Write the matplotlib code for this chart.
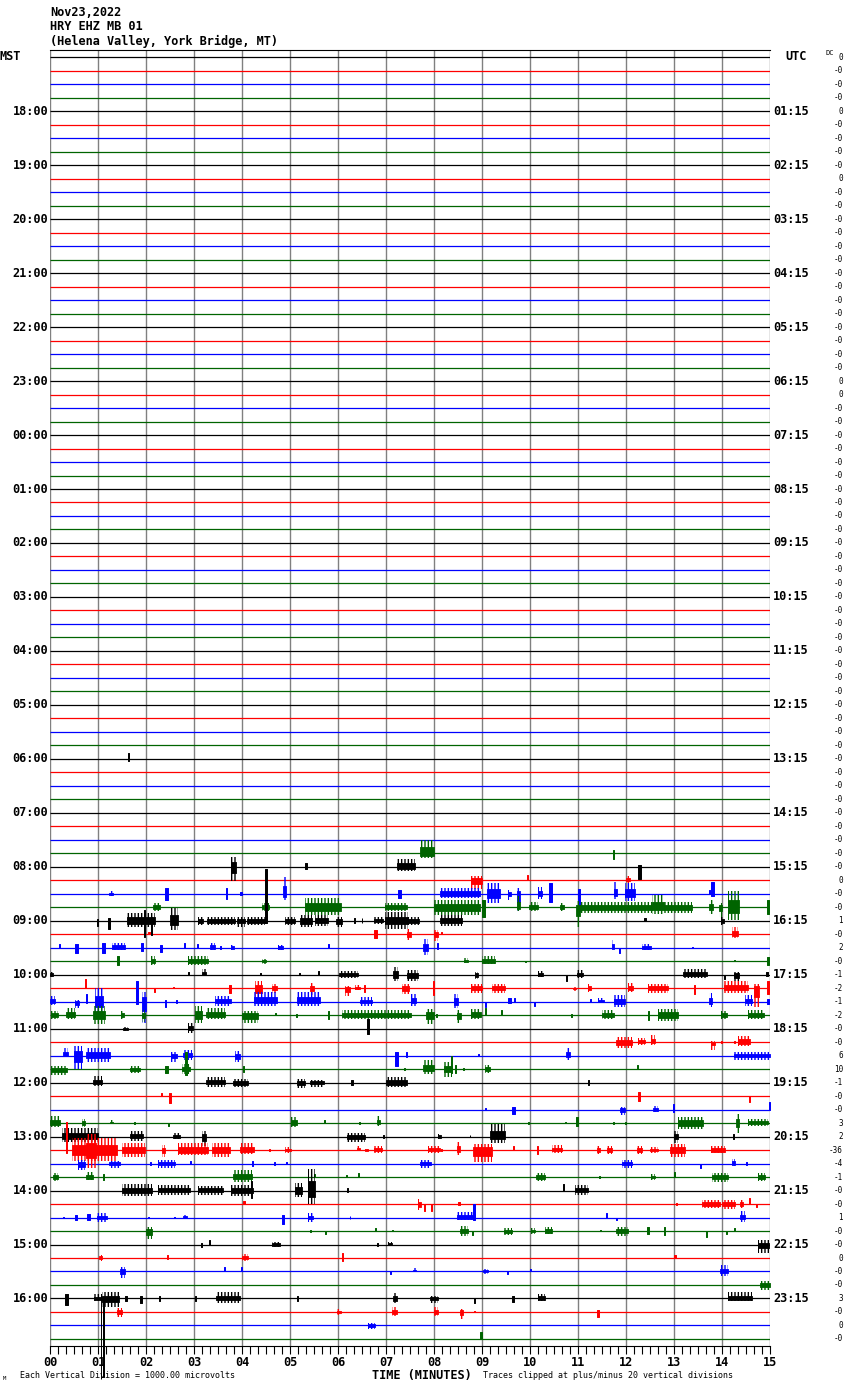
import matplotlib
matplotlib.use("Agg")
import matplotlib.pyplot as plt

plt.rcParams['font.family'] = ['DejaVu Sans Mono']
plt.rcParams['hatch.linewidth'] = 1.0

W, H = 850, 1390

# ---------------- data ----------------
header_lines = ["Nov23,2022", "HRY EHZ MB 01", "(Helena Valley, York Bridge, MT)"]

mst_labels = ["18:00", "19:00", "20:00", "21:00", "22:00", "23:00", "00:00", "01:00",
              "02:00", "03:00", "04:00", "05:00", "06:00", "07:00", "08:00", "09:00",
              "10:00", "11:00", "12:00", "13:00", "14:00", "15:00", "16:00"]
utc_labels = ["01:15", "02:15", "03:15", "04:15", "05:15", "06:15", "07:15", "08:15",
              "09:15", "10:15", "11:15", "12:15", "13:15", "14:15", "15:15", "16:15",
              "17:15", "18:15", "19:15", "20:15", "21:15", "22:15", "23:15"]

# DC offset printed at right of each of the 96 traces
dc_offsets = (["0", "-0", "-0", "-0", "0", "-0", "-0", "-0", "-0", "0", "-0", "-0"]
              + ["-0"] * 12
              + ["0", "0", "-0", "-0"]
              + ["-0"] * 33
              + ["0", "-0", "-0", "1", "-0", "2", "-0", "-1", "-2", "-1", "-2",
                 "-0", "-0", "6", "10", "-1", "-0", "-0", "3", "2", "-36", "-4", "-1",
                 "-0", "-0", "1", "-0", "-0", "0", "-0", "-0", "3", "-0", "0", "-0"])

minute_labels = ["%02d" % m for m in range(16)]

# seismic bursts: (trace, start min, end min, amplitude up, amplitude down)
# amplitudes in units of trace spacing
bursts = [
    (52, 1.62, 1.65, 0.4, 0.15),
    (59, 7.71, 7.99, 1.0, 0.37), (59, 11.72, 11.76, 0.25, 0.45),
    (60, 3.78, 3.87, 0.74, 1.06), (60, 5.32, 5.35, 0.3, 0.2), (60, 7.22, 7.60, 0.55, 0.32),
    (60, 12.26, 12.31, 0.1, 0.9),
    (61, 8.78, 9.00, 0.32, 0.67), (61, 9.93, 9.96, 0.4, 0.0), (61, 12.01, 12.08, 0.3, 0.2),
    (62, 1.22, 1.32, 0.2, 0.2), (62, 2.40, 2.45, 0.45, 0.47), (62, 3.66, 3.69, 0.45, 0.42),
    (62, 3.96, 3.99, 0.1, 0.1), (62, 4.85, 4.92, 1.26, 0.47), (62, 7.26, 7.31, 0.3, 0.3),
    (62, 8.12, 8.96, 0.4, 0.3), (62, 9.10, 9.37, 0.8, 0.7), (62, 9.54, 9.60, 0.3, 0.45),
    (62, 9.72, 9.79, 0.45, 1.28), (62, 10.16, 10.26, 0.5, 0.37), (62, 10.40, 10.45, 0.8, 0.6),
    (62, 11.00, 11.05, 0.37, 1.28), (62, 11.74, 11.82, 0.86, 0.37), (62, 11.98, 12.19, 0.8, 0.55),
    (62, 13.72, 13.74, 0.3, 0.0), (62, 13.78, 13.83, 0.86, 0.2),
    (63, 2.15, 2.29, 0.35, 0.3), (63, 4.41, 4.56, 0.35, 0.3), (63, 5.31, 6.06, 0.67, 0.57),
    (63, 6.98, 7.43, 0.3, 0.3), (63, 8.00, 8.96, 0.55, 0.6), (63, 9.01, 9.06, 0.55, 0.74),
    (63, 9.72, 9.79, 0.8, 0.3), (63, 9.98, 10.17, 0.42, 0.3), (63, 10.63, 10.70, 0.3, 0.3),
    (63, 10.95, 11.05, 0.45, 1.43), (63, 11.05, 12.55, 0.42, 0.45), (63, 12.55, 12.80, 0.9, 0.5),
    (63, 12.80, 13.37, 0.42, 0.4), (63, 13.72, 13.82, 0.5, 0.5), (63, 13.93, 14.00, 0.3, 0.7),
    (63, 14.12, 14.36, 1.2, 0.95), (63, 14.94, 14.98, 0.57, 0.5),
    (64, 0.98, 1.00, 0.1, 0.4), (64, 1.20, 1.24, 0.2, 0.6), (64, 1.60, 2.19, 0.6, 0.5),
    (64, 1.95, 1.98, 0.8, 1.2), (64, 2.10, 2.13, 0.3, 1.04), (64, 2.50, 2.67, 0.94, 0.67),
    (64, 3.09, 3.19, 0.3, 0.3), (64, 3.28, 3.85, 0.3, 0.3), (64, 3.89, 4.06, 0.3, 0.45),
    (64, 4.10, 4.48, 0.3, 0.3), (64, 4.48, 4.53, 3.83, 0.2), (64, 4.90, 5.10, 0.3, 0.3),
    (64, 5.21, 5.45, 0.4, 0.5), (64, 5.53, 5.80, 0.4, 0.4), (64, 5.95, 6.08, 0.3, 0.5),
    (64, 6.34, 6.36, 0.2, 0.2), (64, 6.49, 6.51, 0.2, 0.2), (64, 6.74, 6.94, 0.25, 0.25),
    (64, 6.98, 7.45, 0.65, 0.6), (64, 7.45, 7.69, 0.3, 0.3), (64, 8.12, 8.58, 0.45, 0.37),
    (64, 12.38, 12.42, 0.2, 0.05), (64, 13.98, 14.05, 0.3, 0.3),
    (65, 2.05, 2.08, 0.2, 0.0), (65, 6.76, 6.81, 0.32, 0.3), (65, 7.43, 7.53, 0.4, 0.4),
    (65, 8.00, 8.09, 0.3, 0.5), (65, 8.14, 8.16, 0.2, 0.0), (65, 14.21, 14.33, 0.5, 0.3),
    (66, 0.18, 0.20, 0.25, 0.0), (66, 0.53, 0.59, 0.25, 0.4), (66, 1.09, 1.15, 0.37, 0.37),
    (66, 1.30, 1.56, 0.37, 0.15), (66, 1.90, 1.94, 0.37, 0.25), (66, 2.29, 2.34, 0.2, 0.3),
    (66, 2.79, 2.81, 0.37, 0.0), (66, 3.07, 3.09, 0.25, 0.0), (66, 3.33, 3.44, 0.37, 0.2),
    (66, 3.55, 3.57, 0.1, 0.1), (66, 3.78, 3.84, 0.2, 0.2), (66, 4.76, 4.86, 0.2, 0.2),
    (66, 5.80, 5.82, 0.25, 0.0), (66, 7.78, 7.88, 0.62, 0.57), (66, 8.07, 8.09, 0.37, 0.1),
    (66, 11.70, 11.76, 0.54, 0.2), (66, 11.86, 11.88, 0.0, 0.42), (66, 12.33, 12.52, 0.3, 0.2),
    (66, 13.38, 13.40, 0.05, 0.05),
    (67, 1.39, 1.44, 0.35, 0.27), (67, 2.10, 2.19, 0.35, 0.27), (67, 2.88, 3.30, 0.35, 0.3),
    (67, 4.42, 4.51, 0.2, 0.2), (67, 8.63, 8.70, 0.22, 0.15), (67, 9.01, 9.28, 0.35, 0.22),
    (67, 9.89, 9.91, 0.05, 0.05), (67, 14.25, 14.27, 0.1, 0.0), (67, 14.94, 14.98, 0.3, 0.3),
    (68, 0.00, 0.07, 0.2, 0.2), (68, 2.87, 2.89, 0.2, 0.0), (68, 3.17, 3.26, 0.45, 0.1),
    (68, 4.37, 4.39, 0.1, 0.0), (68, 5.19, 5.21, 0.1, 0.0), (68, 5.59, 5.61, 0.27, 0.0),
    (68, 6.03, 6.42, 0.3, 0.25), (68, 7.15, 7.26, 0.6, 0.47), (68, 7.43, 7.67, 0.35, 0.47),
    (68, 8.85, 8.91, 0.2, 0.3), (68, 10.17, 10.28, 0.3, 0.2), (68, 10.75, 10.77, 0.0, 0.47),
    (68, 10.97, 11.10, 0.35, 0.22), (68, 13.19, 13.68, 0.4, 0.25), (68, 14.04, 14.06, 0.0, 0.3),
    (68, 14.24, 14.35, 0.2, 0.47), (68, 14.92, 14.95, 0.2, 0.1),
    (69, 0.72, 0.76, 0.7, 0.0), (69, 2.16, 2.18, 0.0, 0.3), (69, 2.56, 2.58, 0.1, 0.0),
    (69, 3.72, 3.78, 0.25, 0.37), (69, 4.27, 4.41, 0.5, 0.74), (69, 4.62, 4.72, 0.32, 0.37),
    (69, 5.42, 5.51, 0.37, 0.5), (69, 6.15, 6.25, 0.17, 0.6), (69, 6.35, 6.46, 0.25, 0.12),
    (69, 6.55, 6.57, 0.25, 0.25), (69, 7.33, 7.47, 0.32, 0.42), (69, 7.97, 8.01, 0.5, 0.5),
    (69, 8.78, 9.00, 0.32, 0.37), (69, 9.21, 9.47, 0.32, 0.37), (69, 10.90, 10.96, 0.1, 0.2),
    (69, 11.20, 11.28, 0.3, 0.3), (69, 12.04, 12.15, 0.42, 0.32), (69, 12.46, 12.88, 0.32, 0.37),
    (69, 13.41, 13.44, 0.25, 0.42), (69, 14.05, 14.55, 0.5, 0.37), (69, 14.67, 14.77, 0.32, 1.4),
    (69, 14.94, 14.98, 0.5, 0.4),
    (70, 0.01, 0.10, 0.45, 0.25), (70, 0.52, 0.60, 0.15, 0.5), (70, 0.75, 0.77, 0.6, 0.1),
    (70, 0.94, 1.11, 1.0, 0.9), (70, 1.80, 1.84, 1.55, 0.2), (70, 1.91, 2.00, 0.7, 1.58),
    (70, 2.40, 2.42, 0.1, 0.4), (70, 2.63, 2.65, 0.1, 0.1), (70, 3.44, 3.78, 0.45, 0.3),
    (70, 4.24, 4.72, 0.7, 0.3), (70, 5.14, 5.63, 0.7, 0.3), (70, 6.46, 6.70, 0.35, 0.3),
    (70, 7.53, 7.62, 0.6, 0.3), (70, 8.42, 8.51, 0.6, 0.47), (70, 9.06, 9.08, 0.0, 0.4),
    (70, 9.55, 9.60, 0.3, 0.1), (70, 9.67, 9.69, 0.3, 0.0), (70, 10.09, 10.11, 0.0, 0.3),
    (70, 11.26, 11.28, 0.2, 0.0), (70, 11.42, 11.55, 0.3, 0.1), (70, 11.76, 11.98, 0.5, 0.4),
    (70, 13.72, 13.79, 0.65, 0.4), (70, 14.48, 14.62, 0.5, 0.3), (70, 14.94, 14.97, 0.2, 0.2),
    (71, 0.03, 0.17, 0.3, 0.3), (71, 0.34, 0.52, 0.55, 0.3), (71, 0.90, 1.15, 0.7, 0.65),
    (71, 1.48, 1.54, 0.3, 0.3), (71, 1.91, 1.98, 0.4, 0.5), (71, 3.02, 3.16, 0.7, 0.55),
    (71, 3.26, 3.65, 0.5, 0.3), (71, 3.99, 4.34, 0.3, 0.6), (71, 4.68, 4.70, 0.15, 0.0),
    (71, 5.13, 5.15, 0.1, 0.1), (71, 5.79, 5.81, 0.3, 0.3), (71, 6.08, 7.53, 0.35, 0.3),
    (71, 7.83, 7.99, 0.45, 0.65), (71, 8.05, 8.07, 0.1, 0.1), (71, 8.47, 8.57, 0.4, 0.55),
    (71, 8.78, 8.98, 0.45, 0.3), (71, 9.06, 9.08, 0.55, 0.0), (71, 9.40, 9.42, 0.4, 0.0),
    (71, 10.86, 10.88, 0.1, 0.1), (71, 11.49, 11.74, 0.35, 0.3), (71, 12.45, 12.47, 0.3, 0.35),
    (71, 12.67, 13.09, 0.45, 0.4), (71, 13.97, 14.10, 0.3, 0.3), (71, 14.55, 14.88, 0.4, 0.3),
    (72, 1.53, 1.63, 0.15, 0.15), (72, 2.87, 2.98, 0.4, 0.3), (72, 6.60, 6.65, 0.7, 0.4),
    (73, 11.79, 12.12, 0.4, 0.4), (73, 12.26, 12.39, 0.3, 0.2), (73, 12.52, 12.60, 0.55, 0.2),
    (73, 13.78, 13.85, 0.1, 0.55), (73, 13.97, 13.99, 0.1, 0.1), (73, 14.25, 14.27, 0.1, 0.1),
    (73, 14.34, 14.59, 0.45, 0.3),
    (74, 0.28, 0.38, 0.6, 0.1), (74, 0.50, 0.66, 0.7, 1.0), (74, 0.76, 1.25, 0.55, 0.45),
    (74, 2.52, 2.64, 0.3, 0.45), (74, 2.78, 2.95, 0.4, 0.3), (74, 3.85, 3.96, 0.35, 0.5),
    (74, 7.19, 7.24, 0.3, 0.75), (74, 7.42, 7.44, 0.25, 0.1), (74, 8.91, 8.93, 0.15, 0.0),
    (74, 10.76, 10.83, 0.6, 0.3), (74, 14.24, 15.00, 0.3, 0.3),
    (75, 0.03, 0.35, 0.25, 0.45), (75, 1.67, 1.87, 0.25, 0.3), (75, 2.40, 2.45, 0.25, 0.3),
    (75, 2.74, 2.92, 0.35, 0.35), (75, 2.82, 2.85, 1.3, 0.4), (75, 4.03, 4.05, 0.2, 0.2),
    (75, 7.37, 7.39, 0.1, 0.1), (75, 7.78, 7.99, 0.65, 0.35), (75, 8.21, 8.37, 0.5, 0.55),
    (75, 8.35, 8.38, 0.95, 0.3), (75, 8.44, 8.46, 0.3, 0.3), (75, 8.60, 8.62, 0.1, 0.1),
    (75, 9.07, 9.16, 0.3, 0.3), (75, 12.23, 12.25, 0.3, 0.0),
    (76, 0.90, 1.08, 0.5, 0.25), (76, 3.26, 3.65, 0.45, 0.3), (76, 3.82, 4.13, 0.3, 0.35),
    (76, 5.14, 5.31, 0.3, 0.4), (76, 5.42, 5.70, 0.2, 0.3), (76, 6.27, 6.32, 0.2, 0.2),
    (76, 7.01, 7.43, 0.45, 0.35), (76, 11.20, 11.22, 0.2, 0.2),
    (77, 2.32, 2.34, 0.2, 0.0), (77, 2.47, 2.53, 0.25, 0.5), (77, 12.26, 12.29, 0.3, 0.35),
    (77, 14.56, 14.58, 0.0, 0.4),
    (78, 9.07, 9.09, 0.15, 0.0), (78, 9.63, 9.69, 0.2, 0.35), (78, 11.87, 11.98, 0.2, 0.4),
    (78, 12.57, 12.67, 0.3, 0.2), (78, 12.98, 13.00, 0.4, 0.2), (78, 14.97, 15.00, 0.55, 0.0),
    (79, 0.01, 0.21, 0.5, 0.3), (79, 0.66, 0.73, 0.3, 0.3), (79, 1.25, 1.32, 0.2, 0.05),
    (79, 1.75, 1.77, 0.1, 0.1), (79, 2.46, 2.48, 0.0, 0.2), (79, 5.03, 5.14, 0.45, 0.3),
    (79, 5.71, 5.73, 0.2, 0.0), (79, 6.44, 6.46, 0.1, 0.1), (79, 6.81, 6.88, 0.55, 0.2),
    (79, 9.96, 9.98, 0.1, 0.1), (79, 10.72, 10.74, 0.1, 0.0), (79, 10.95, 10.99, 0.45, 0.25),
    (79, 11.72, 11.74, 0.1, 0.1), (79, 11.98, 12.00, 0.1, 0.1), (79, 13.08, 13.61, 0.45, 0.45),
    (79, 14.29, 14.35, 0.7, 0.7), (79, 14.55, 14.96, 0.3, 0.2),
    (80, 0.24, 1.00, 0.65, 0.4), (80, 1.67, 1.94, 0.45, 0.3), (80, 2.57, 2.71, 0.25, 0.2),
    (80, 3.16, 3.26, 0.45, 0.7), (80, 6.18, 6.56, 0.3, 0.4), (80, 6.93, 6.95, 0.1, 0.1),
    (80, 8.09, 8.15, 0.2, 0.2), (80, 8.74, 8.76, 0.1, 0.0), (80, 9.17, 9.48, 0.95, 0.47),
    (80, 12.99, 13.08, 0.45, 0.45), (80, 14.23, 14.25, 0.2, 0.2),
    (81, 0.33, 0.36, 2.05, 0.2), (81, 0.45, 1.39, 0.9, 0.8), (81, 0.75, 0.95, 1.2, 1.3),
    (81, 1.49, 1.98, 0.5, 0.5), (81, 2.33, 2.40, 0.4, 0.55), (81, 2.67, 3.30, 0.5, 0.4),
    (81, 3.37, 3.75, 0.5, 0.55), (81, 3.96, 4.24, 0.5, 0.3), (81, 4.57, 4.59, 0.1, 0.1),
    (81, 4.90, 5.03, 0.25, 0.2), (81, 6.39, 6.46, 0.3, 0.05), (81, 6.56, 6.63, 0.1, 0.1),
    (81, 6.74, 6.91, 0.3, 0.2), (81, 7.88, 8.12, 0.3, 0.2), (81, 8.15, 8.17, 0.1, 0.1),
    (81, 8.47, 8.54, 0.6, 0.35), (81, 8.82, 9.20, 0.45, 0.9), (81, 9.64, 9.66, 0.3, 0.0),
    (81, 10.15, 10.17, 0.3, 0.3), (81, 10.45, 10.66, 0.35, 0.2), (81, 11.39, 11.46, 0.3, 0.3),
    (81, 11.60, 11.70, 0.3, 0.3), (81, 12.22, 12.33, 0.3, 0.3), (81, 12.50, 12.67, 0.25, 0.2),
    (81, 12.92, 13.23, 0.45, 0.5), (81, 13.78, 14.06, 0.3, 0.25),
    (82, 0.59, 0.73, 0.3, 0.5), (82, 1.22, 1.46, 0.2, 0.3), (82, 2.09, 2.11, 0.1, 0.1),
    (82, 2.26, 2.60, 0.3, 0.3), (82, 2.91, 2.93, 0.2, 0.0), (82, 4.20, 4.22, 0.2, 0.2),
    (82, 4.66, 4.68, 0.1, 0.1), (82, 4.92, 4.94, 0.15, 0.0), (82, 7.71, 7.94, 0.3, 0.3),
    (82, 11.91, 12.12, 0.3, 0.3), (82, 13.55, 13.57, 0.0, 0.3), (82, 14.20, 14.27, 0.35, 0.2),
    (82, 14.50, 14.52, 0.1, 0.1),
    (83, 0.07, 0.17, 0.3, 0.3), (83, 0.76, 0.90, 0.4, 0.25), (83, 1.10, 1.12, 0.25, 0.25),
    (83, 3.82, 4.20, 0.5, 0.35), (83, 5.50, 5.52, 0.2, 0.0), (83, 6.17, 6.19, 0.15, 0.0),
    (83, 6.41, 6.43, 0.3, 0.0), (83, 10.13, 10.31, 0.3, 0.3), (83, 11.43, 11.45, 0.05, 0.05),
    (83, 12.53, 12.60, 0.2, 0.2), (83, 13.01, 13.03, 0.4, 0.0), (83, 13.79, 14.12, 0.3, 0.4),
    (83, 14.76, 14.90, 0.3, 0.3),
    (84, 1.49, 2.12, 0.45, 0.4), (84, 2.26, 2.92, 0.4, 0.3), (84, 3.09, 3.61, 0.35, 0.3),
    (84, 3.78, 4.23, 0.4, 0.4), (84, 4.18, 4.21, 0.7, 0.55), (84, 5.10, 5.24, 0.55, 0.5),
    (84, 5.38, 5.53, 1.6, 1.0), (84, 6.19, 6.21, 0.2, 0.1), (84, 10.68, 10.70, 0.45, 0.0),
    (84, 10.94, 11.20, 0.4, 0.3),
    (85, 4.03, 4.07, 0.25, 0.0), (85, 7.67, 7.73, 0.35, 0.45), (85, 7.79, 7.81, 0.0, 0.55),
    (85, 7.93, 7.95, 0.0, 0.5), (85, 8.49, 8.54, 0.15, 0.05), (85, 13.05, 13.07, 0.1, 0.1),
    (85, 13.58, 13.96, 0.3, 0.3), (85, 14.00, 14.27, 0.3, 0.35), (85, 14.37, 14.44, 0.3, 0.3),
    (85, 14.56, 14.58, 0.45, 0.0), (85, 14.71, 14.73, 0.0, 0.2),
    (86, 0.27, 0.29, 0.05, 0.05), (86, 0.52, 0.57, 0.2, 0.2), (86, 0.78, 0.83, 0.25, 0.2),
    (86, 0.97, 1.18, 0.3, 0.3), (86, 2.04, 2.06, 0.05, 0.05), (86, 2.59, 2.61, 0.05, 0.05),
    (86, 2.78, 2.85, 0.2, 0.1), (86, 4.83, 4.87, 0.2, 0.45), (86, 5.37, 5.47, 0.3, 0.3),
    (86, 6.24, 6.26, 0.1, 0.1), (86, 8.47, 8.85, 0.4, 0.2), (86, 8.82, 8.85, 1.0, 0.2),
    (86, 11.59, 11.61, 0.3, 0.0), (86, 11.80, 11.82, 0.0, 0.15), (86, 14.37, 14.48, 0.45, 0.3),
    (87, 2.00, 2.12, 0.3, 0.6), (87, 5.41, 5.43, 0.05, 0.05), (87, 5.72, 5.74, 0.0, 0.25),
    (87, 6.78, 6.80, 0.25, 0.0), (87, 7.12, 7.14, 0.1, 0.0), (87, 8.54, 8.71, 0.35, 0.4),
    (87, 8.79, 8.81, 0.0, 0.3), (87, 9.46, 9.62, 0.25, 0.3), (87, 10.02, 10.10, 0.2, 0.2),
    (87, 10.31, 10.46, 0.3, 0.25), (87, 11.45, 11.47, 0.05, 0.0), (87, 11.79, 12.05, 0.3, 0.4),
    (87, 12.43, 12.47, 0.3, 0.2), (87, 12.79, 12.81, 0.3, 0.3), (87, 13.67, 13.69, 0.0, 0.45),
    (87, 14.09, 14.11, 0.0, 0.2), (87, 14.25, 14.27, 0.2, 0.0),
    (88, 3.15, 3.17, 0.1, 0.15), (88, 3.31, 3.33, 0.35, 0.0), (88, 4.62, 4.79, 0.2, 0.2),
    (88, 6.82, 6.84, 0.1, 0.1), (88, 7.05, 7.12, 0.2, 0.1), (88, 14.76, 14.97, 0.3, 0.6),
    (89, 1.03, 1.09, 0.25, 0.2), (89, 2.44, 2.46, 0.2, 0.1), (89, 3.99, 4.13, 0.3, 0.2),
    (89, 6.08, 6.11, 0.4, 0.2), (89, 13.00, 13.04, 0.2, 0.0),
    (90, 1.46, 1.56, 0.35, 0.45), (90, 3.62, 3.64, 0.3, 0.0), (90, 3.97, 3.99, 0.3, 0.0),
    (90, 7.09, 7.11, 0.0, 0.2), (90, 7.56, 7.62, 0.25, 0.0), (90, 9.03, 9.12, 0.2, 0.15),
    (90, 9.52, 9.54, 0.0, 0.2), (90, 10.01, 10.03, 0.15, 0.0), (90, 13.96, 14.12, 0.45, 0.3),
    (91, 14.79, 15.00, 0.3, 0.35),
    (92, 0.31, 0.37, 0.3, 0.45), (92, 0.92, 1.09, 0.3, 0.2), (92, 1.09, 1.44, 0.45, 0.65),
    (92, 1.06, 1.07, 0.0, 6.0), (92, 1.11, 1.12, 0.0, 5.8),
    (92, 1.56, 1.61, 0.2, 0.2), (92, 1.87, 1.91, 0.2, 0.3), (92, 2.27, 2.29, 0.2, 0.2),
    (92, 3.03, 3.05, 0.2, 0.2), (92, 3.45, 3.96, 0.45, 0.3), (92, 5.14, 5.16, 0.2, 0.2),
    (92, 7.15, 7.22, 0.4, 0.35), (92, 7.92, 8.09, 0.2, 0.3), (92, 8.83, 8.85, 0.0, 0.3),
    (92, 9.62, 9.67, 0.2, 0.25), (92, 10.16, 10.31, 0.35, 0.2), (92, 14.13, 14.62, 0.45, 0.2),
    (93, 1.39, 1.49, 0.3, 0.35), (93, 5.97, 6.07, 0.2, 0.2), (93, 7.12, 7.22, 0.4, 0.3),
    (93, 8.01, 8.09, 0.35, 0.3), (93, 8.54, 8.61, 0.25, 0.5), (93, 8.83, 8.85, 0.05, 0.0),
    (93, 11.39, 11.44, 0.15, 0.35),
    (94, 6.63, 6.77, 0.2, 0.25),
    (95, 8.95, 9.00, 0.55, 0.0),
]

trace_colors = ["#000000", "#ff0000", "#0000ff", "#006400"]
n_traces = len(dc_offsets)

# ---------------- figure ----------------
fig = plt.figure(figsize=(W / 100, H / 100), dpi=100)
ax = fig.add_axes([50 / W, 1 - 1345.7 / H, 720 / W, (1345.7 - 50) / H])
ax.set_xlim(0, 15)
ax.set_ylim(n_traces - 0.5, -0.54)

# minute grid
for m in range(16):
    ax.axvline(m, color="#808080", lw=1.0, zorder=1)

# trace baselines
for i in range(n_traces):
    ax.hlines(i, 0, 15, color=trace_colors[i % 4], lw=0.9, zorder=2)

# bursts: short ones solid, longer ones a dense core with sparse peaks
for tr, t0, t1, up, dn in bursts:
    c = trace_colors[tr % 4]
    if t1 - t0 <= 0.06:
        ax.fill_between([t0, t1], tr - up, tr + dn, color=c, lw=0.7, zorder=3, clip_on=False)
    else:
        ax.fill_between([t0, t1], tr - 0.45 * up, tr + 0.45 * dn, color=c, lw=0.6,
                        zorder=3, clip_on=False)
        ax.fill_between([t0, t1], tr - up, tr + dn, facecolor="none", edgecolor=c,
                        lw=0, hatch="|||||", zorder=3, clip_on=False)

for s in ("left", "right"):
    ax.spines[s].set_visible(False)
ax.spines["top"].set_color("black")
ax.spines["bottom"].set_color("black")

ax.set_yticks([])
ax.set_xticks(range(16))
ax.set_xticklabels(minute_labels, fontsize=8.6, fontweight="bold")
ax.set_xticks([k / 6 for k in range(91)], minor=True)
ax.tick_params(axis="x", which="both", direction="out", length=6, width=0.8, pad=1.5)

ytr = ax.get_yaxis_transform()
for k, (lab_l, lab_r) in enumerate(zip(mst_labels, utc_labels)):
    row = 4 * (k + 1)
    ax.text(-2 / 720, row, lab_l, transform=ytr, ha="right", va="center",
            fontsize=8.6, fontweight="bold")
    ax.text(1 + 3 / 720, row, lab_r, transform=ytr, ha="left", va="center",
            fontsize=8.6, fontweight="bold")

for i, v in enumerate(dc_offsets):
    ax.text(1 + 73 / 720, i, v, transform=ytr, ha="right", va="center", fontsize=5.5)

# header and corner labels
for k, line in enumerate(header_lines):
    fig.text(50 / W, 1 - (12 + 14.8 * k) / H, line, ha="left", va="center",
             fontsize=8.6, fontweight="bold")
fig.text(-1 / W, 1 - 57 / H, "MST", ha="left", va="center", fontsize=8.6, fontweight="bold")
fig.text(785 / W, 1 - 57 / H, "UTC", ha="left", va="center", fontsize=8.6, fontweight="bold")
fig.text(826 / W, 1 - 53 / H, "DC", ha="left", va="center", fontsize=5)

# footer
fig.text(422 / W, 1 - 1375 / H, "TIME (MINUTES)", ha="center", va="center",
         fontsize=8.6, fontweight="bold")
fig.text(20 / W, 1 - 1376 / H, "Each Vertical Division = 1000.00 microvolts",
         ha="left", va="center", fontsize=6)
fig.text(483 / W, 1 - 1376 / H, "Traces clipped at plus/minus 20 vertical divisions",
         ha="left", va="center", fontsize=6)
fig.text(3 / W, 1 - 1378 / H, "M", ha="left", va="center", fontsize=4)

fig.savefig("out.png", dpi=100)
